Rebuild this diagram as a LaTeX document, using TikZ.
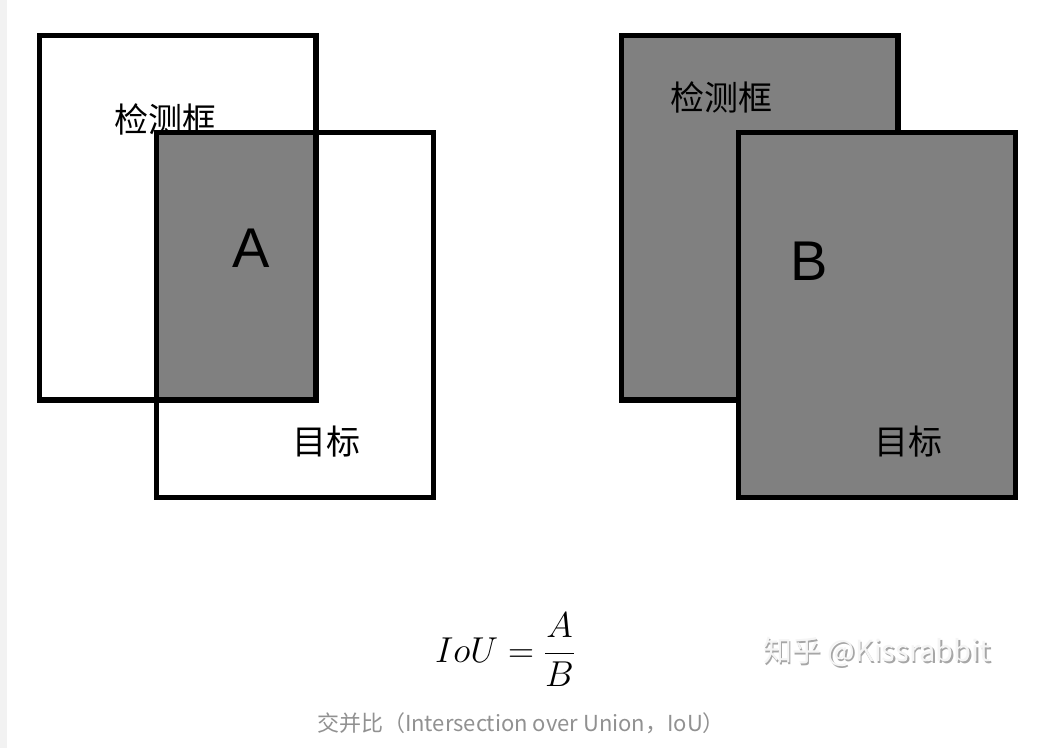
\RequirePackage{fix-cm}
\documentclass[tikz,border=0pt]{standalone}
\usepackage{fontspec}
\setmainfont{Liberation Sans}
\newfontfamily\cjk{Noto Sans CJK SC}
\definecolor{boxgray}{RGB}{128,128,128}
\definecolor{capgray}{RGB}{145,145,145}
\definecolor{stripgray}{RGB}{242,242,242}
\begin{document}
\begin{tikzpicture}[x=1pt,y=-1pt,
  frame/.style={line width=5.5pt,draw=black},
  hanzi/.style={font=\cjk\fontsize{34}{38}\selectfont,inner sep=0pt},
  letter/.style={font=\fontsize{56}{60}\selectfont,inner sep=0pt}]
\useasboundingbox (0,0) rectangle (1041,748);
\fill[white] (0,0) rectangle (1041,748);
\fill[stripgray] (0,0) rectangle (7,748);
% left panel
\fill[boxgray] (156.5,132.5) rectangle (316,400);
\node[hanzi] (det1) at (165,119) {检测框};
\draw[frame] (39.5,35.5) rectangle (316,400);
\draw[frame] (156.5,132.5) rectangle (433.5,497.5);
\node[letter] (A) at (251,248) {A};
\node[hanzi] (tgt1) at (326,442) {目标};
% right panel
\draw[frame,fill=boxgray] (621.5,35.5) rectangle (898,400);
\draw[frame,fill=boxgray] (738.5,132.5) rectangle (1015.5,497.5);
\node[hanzi] (det2) at (721,97) {检测框};
\node[letter] (B) at (809,261) {B};
\node[hanzi] (tgt2) at (908,442) {目标};
% formula
\node[font=\fontsize{36}{40}\selectfont,inner sep=0pt] (iou) at (505,650) {$\displaystyle IoU \;{=}\; \frac{A}{B}$};
% watermark
\node[font=\cjk\fontsize{29}{32}\selectfont,text=black!35,inner sep=0pt] (wms) at (878.5,653.5) {知乎 @Kissrabbit};
\node[font=\cjk\fontsize{29}{32}\selectfont,text=black!4,inner sep=0pt] (wm) at (877,652) {知乎 @Kissrabbit};
% caption
\node[font=\cjk\fontsize{22}{25}\selectfont,text=capgray,inner sep=0pt] (cap) at (521,723) {交并比（Intersection over Union，IoU）};
\end{tikzpicture}
\end{document}
